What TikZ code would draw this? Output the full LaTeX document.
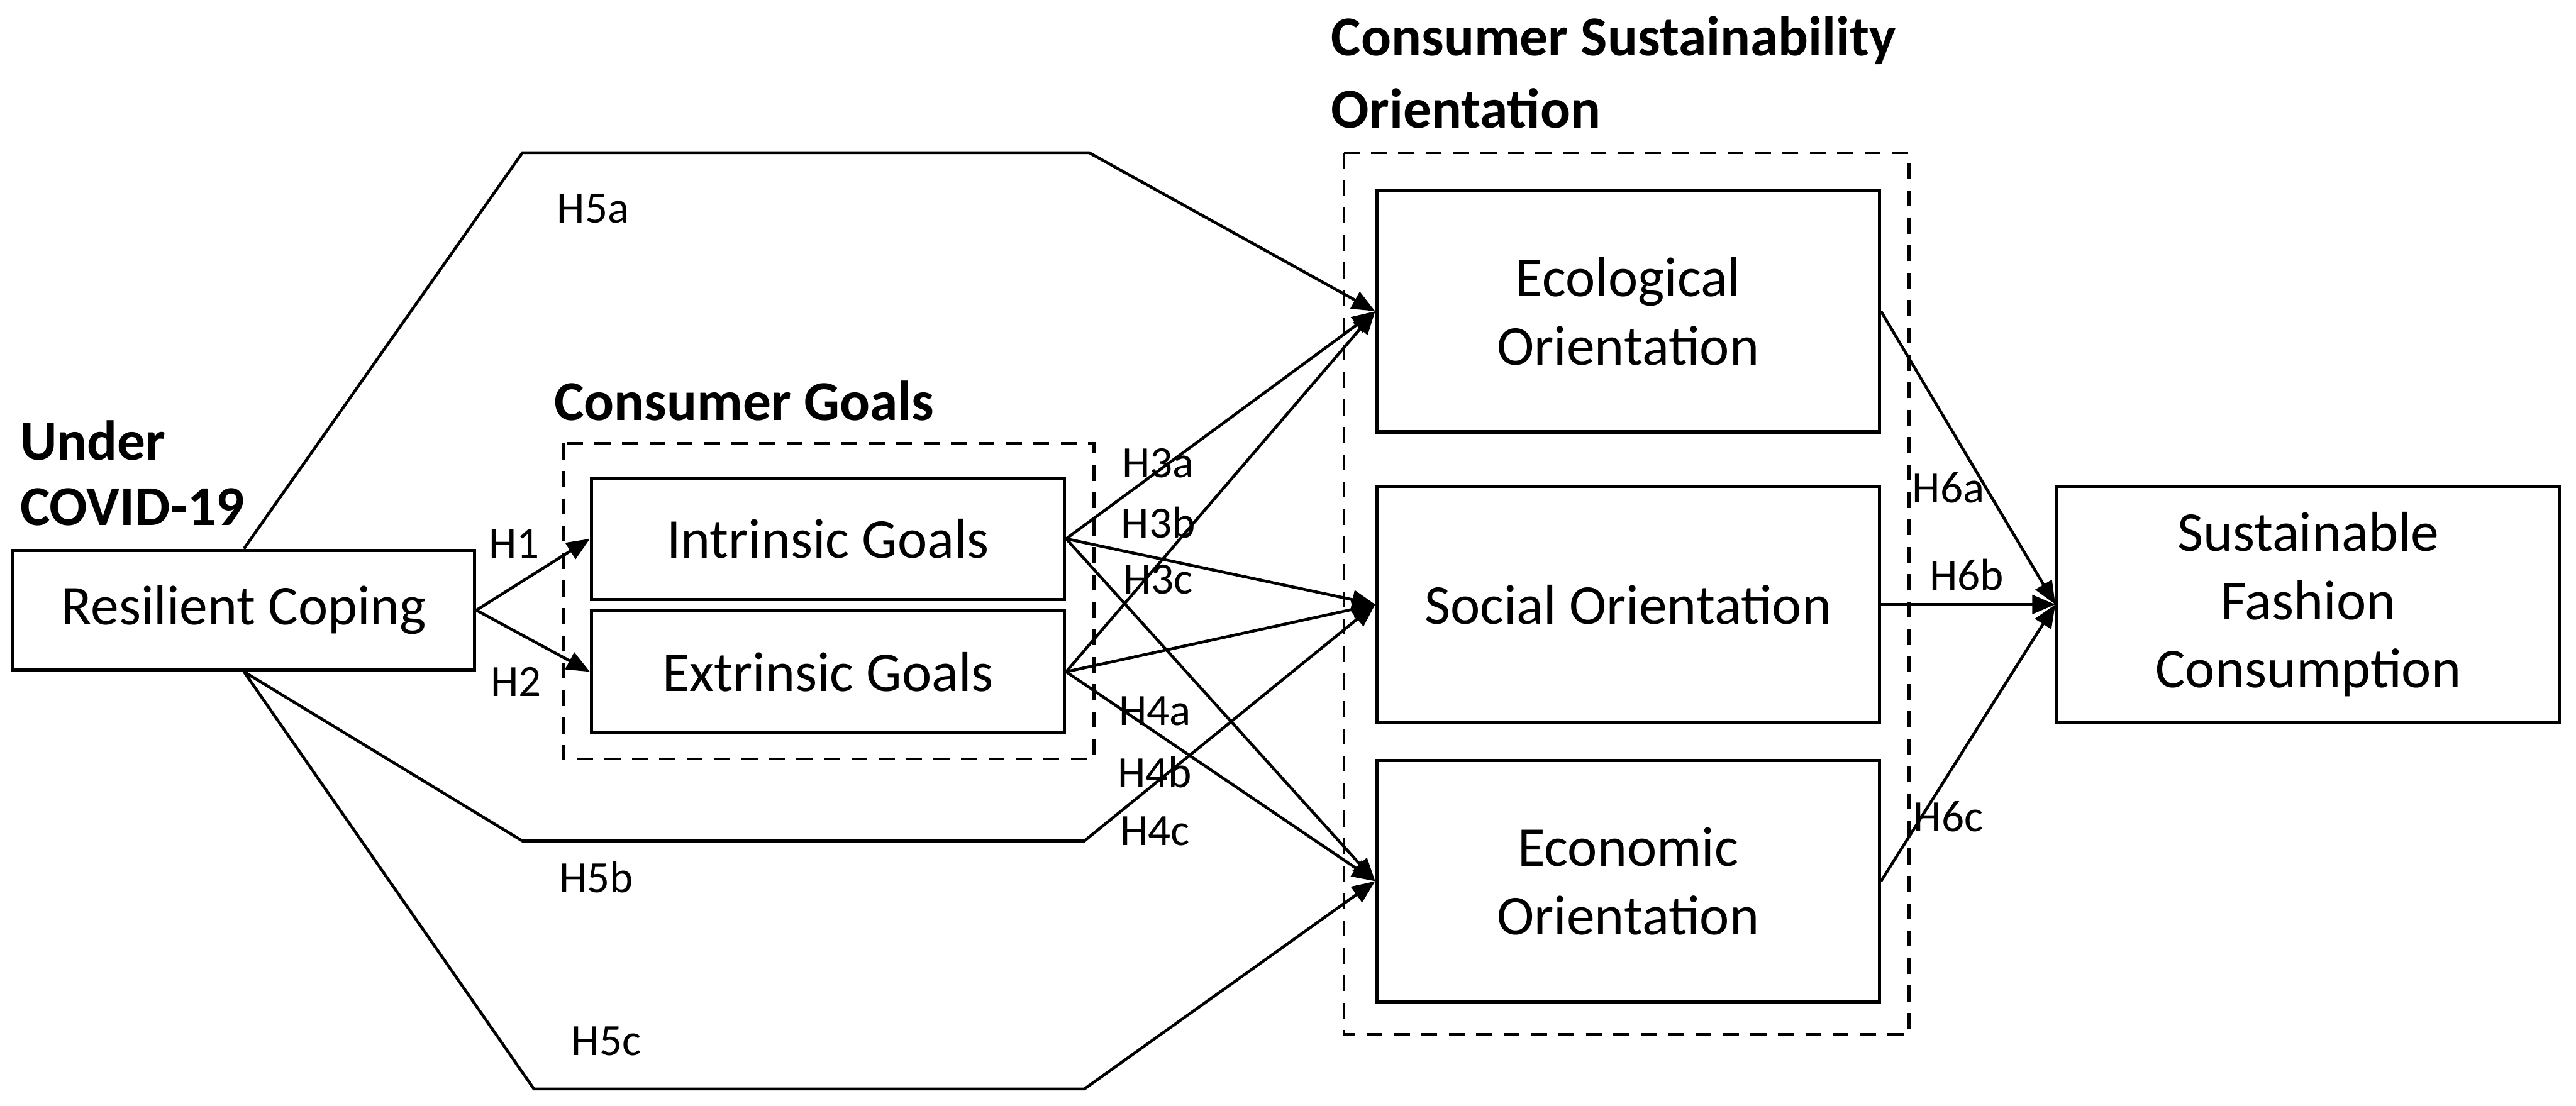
\documentclass[tikz,border=0pt]{standalone}
\usepackage{fontspec}
\setmainfont{Carlito}
\usetikzlibrary{arrows.meta}

\begin{document}
\begin{tikzpicture}[x=0.02cm,y=-0.02cm,>={Triangle[length=8pt,width=6.5pt]},
 box/.style={draw,line width=1.1pt,inner sep=0pt,align=center,font=\fontsize{19.5}{23.7}\selectfont},
 title/.style={inner sep=0pt,align=left,font=\fontsize{19.5}{22.7}\selectfont\bfseries},
 grp/.style={line width=1pt,dash pattern=on 5.5pt off 4pt},
 conn/.style={->,line width=1pt},
 hyp/.style={inner sep=0pt,font=\fontsize{15.5}{16}\selectfont}]
\useasboundingbox (0,0) rectangle (1568,673);
% constructs
\node[box,minimum width=5.62cm,minimum height=1.46cm] (rc) at (148.5,371.5) {Resilient Coping};
\node[box,minimum width=5.76cm,minimum height=1.48cm] (ig) at (504,328) {Intrinsic Goals};
\node[box,minimum width=5.76cm,minimum height=1.48cm] (eg) at (504,409) {Extrinsic Goals};
\node[box,minimum width=6.12cm,minimum height=2.94cm] (eco) at (991,189.5) {Ecological\\Orientation};
\node[box,minimum width=6.12cm,minimum height=2.88cm] (soc) at (991,368) {Social Orientation};
\node[box,minimum width=6.12cm,minimum height=2.94cm] (econ) at (991,536.5) {Economic\\Orientation};
\node[box,minimum width=6.12cm,minimum height=2.88cm] (sfc) at (1405,368) {Sustainable\\Fashion\\Consumption};
% group titles and frames
\node[title,anchor=west] (covid) at (12,288) {Under\\COVID-19};
\node[title,anchor=west] (cgtitle) at (337,244) {Consumer Goals};
\node[title,anchor=west,font=\fontsize{19.5}{25}\selectfont\bfseries] (csotitle) at (810,44) {Consumer Sustainability\\Orientation};
\draw[grp] (343,270) rectangle (666,462);
\draw[grp] (818,93) rectangle (1162,630);
% bends of the H5 paths
\coordinate (a1) at (318,93);  \coordinate (a2) at (663,93);
\coordinate (b1) at (318,512); \coordinate (b2) at (660,512);
\coordinate (c1) at (325,663); \coordinate (c2) at (660,663);
% paths
\draw[conn] (rc.east) -- (ig.west);
\draw[conn] (rc.east) -- (eg.west);
\draw[conn] (rc.north) -- (a1) -- (a2) -- (eco.west);
\draw[conn] (rc.south) -- (b1) -- (b2) -- (soc.west);
\draw[conn] (rc.south) -- (c1) -- (c2) -- (econ.west);
\foreach \t in {eco,soc,econ} {
  \draw[conn] (ig.east) -- (\t.west);
  \draw[conn] (eg.east) -- (\t.west);
}
\foreach \s in {eco,soc,econ} \draw[conn] (\s.east) -- (sfc.west);
% hypothesis labels
\node[hyp] (h1) at (313,331) {H1};
\node[hyp] (h2) at (314,415) {H2};
\node[hyp] (h3a) at (705,282) {H3a};
\node[hyp] (h3b) at (705,318) {H3b};
\node[hyp] (h3c) at (705,353) {H3c};
\node[hyp] (h4a) at (703,433) {H4a};
\node[hyp] (h4b) at (703,470) {H4b};
\node[hyp] (h4c) at (703,506) {H4c};
\node[hyp] (h5a) at (361,127) {H5a};
\node[hyp] (h5b) at (363,534) {H5b};
\node[hyp] (h5c) at (369,634) {H5c};
\node[hyp] (h6a) at (1186,297) {H6a};
\node[hyp] (h6b) at (1197,350) {H6b};
\node[hyp] (h6c) at (1186,497) {H6c};
\end{tikzpicture}
\end{document}
